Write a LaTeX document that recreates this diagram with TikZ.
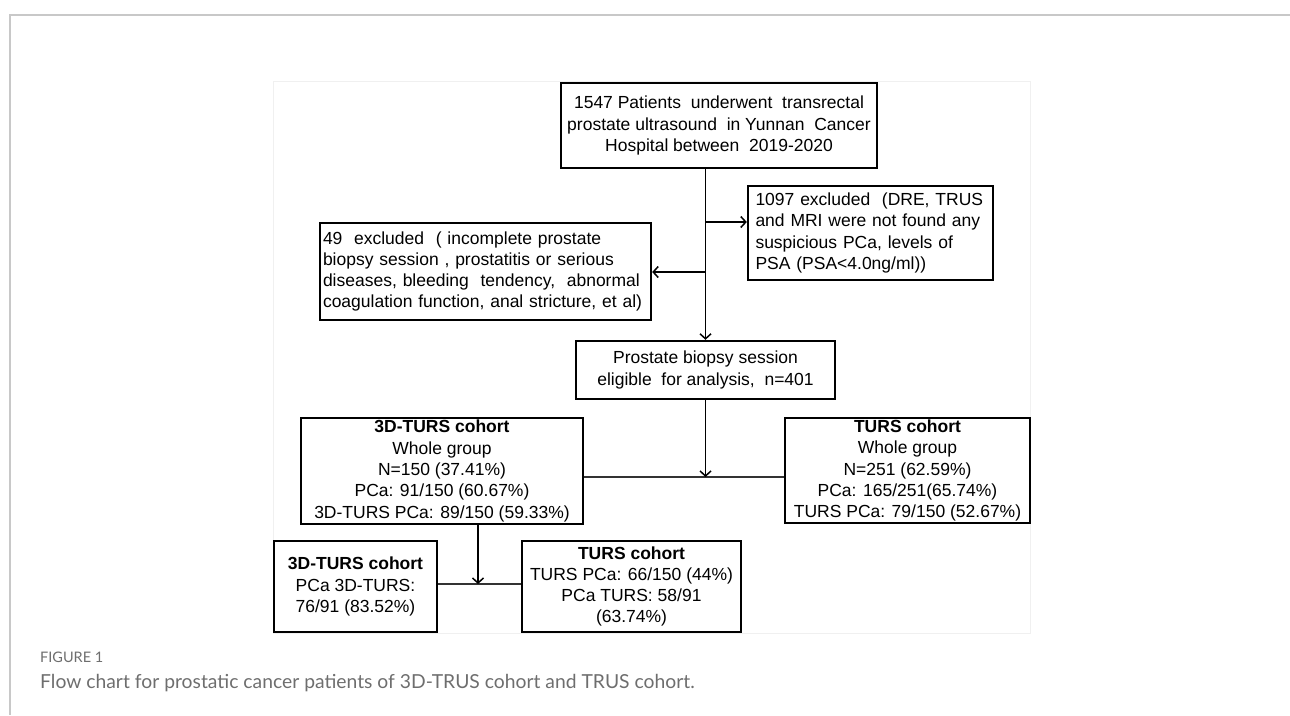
\documentclass[tikz,border=0pt]{standalone}
\usepackage{fontspec}
\setmainfont{Liberation Sans}
\newfontfamily\capfont{Lato}
\usetikzlibrary{arrows.meta}
\definecolor{framegray}{HTML}{C8C8C8}
\definecolor{capgray}{HTML}{6E6E6E}
\tikzset{
	box/.style={draw=black,line width=2.4pt,fill=white,inner xsep=6pt,inner ysep=0pt,
		font=\fontsize{17.5}{21.3}\selectfont},
	boxc/.style={box,align=center},
	boxl/.style={box,align=left},
	flow/.style={line width=1.5pt,->,>={Straight Barb[length=5pt,width=11pt]}},
	joinline/.style={line width=1.2pt,draw=black!80}
}
\begin{document}
\begin{tikzpicture}[x=1pt,y=-1pt]
		\useasboundingbox (0,0) rectangle (1290,715);
		\draw[framegray,line width=1.5pt] (1290,15) -- (10,15) -- (10,715);
		\draw[black!6,fill=white] (273,81) rectangle (1030,633);
		\node[boxc,minimum width=316pt,minimum height=85pt] (top) at (719,125.5)
			{1547 Patients \ underwent \ transrectal\\prostate ultrasound \ in Yunnan \ Cancer\\Hospital between \ 2019-2020};
		\node[boxl,minimum width=245pt,minimum height=94pt,text width=230pt] (exA) at (870.5,233)
			{1097 excluded \ (DRE, TRUS\\and MRI were not found any\\suspicious PCa, levels of\\PSA (PSA<4.0ng/ml))};
		\node[boxl,minimum width=331pt,minimum height=97pt,inner xsep=3pt,text width=325pt] (exB) at (485.5,271.5)
			{49 \ excluded \ ( incomplete prostate\\biopsy session , prostatitis or serious\\diseases, bleeding \ tendency, \ abnormal\\coagulation function, anal stricture, et al)};
		\node[boxc,minimum width=259pt,minimum height=58pt] (elig) at (705.5,370)
			{Prostate biopsy session\\eligible \ for analysis, \ n=401};
		\node[boxc,minimum width=282pt,minimum height=106pt] (cohA) at (442,471)
			{\textbf{3D-TURS cohort}\\Whole group\\N=150 (37.41\%)\\PCa: 91/150 (60.67\%)\\3D-TURS PCa: 89/150 (59.33\%)};
		\node[boxc,minimum width=245pt,minimum height=105pt] (cohB) at (907.5,470.5)
			{\textbf{TURS cohort}\\Whole group\\N=251 (62.59\%)\\PCa: 165/251(65.74\%)\\TURS PCa: 79/150 (52.67\%)};
		\node[boxc,minimum width=163pt,minimum height=91pt] (subA) at (355.5,586.5)
			{\textbf{3D-TURS cohort}\\PCa 3D-TURS:\\76/91 (83.52\%)};
		\node[boxc,minimum width=219pt,minimum height=91pt] (subB) at (631.5,586.5)
			{\textbf{TURS cohort}\\TURS PCa: 66/150 (44\%)\\PCa TURS: 58/91\\(63.74\%)};
		\coordinate (brA) at (705.5,222);
		\coordinate (brB) at (705.5,272);
		\coordinate (jA) at (705.5,477);
		\coordinate (jB) at (478,584);
		\draw[flow] (top.south -| elig.north) -- (elig.north);
		\draw[flow] (brA) -- (brA -| exA.west);
		\draw[flow] (brB) -- (brB -| exB.east);
		\draw[joinline] (cohA.east |- jA) -- (cohB.west |- jA);
		\draw[flow] (elig.south) -- (jA);
		\draw[joinline] (subA.east |- jB) -- (subB.west |- jB);
		\draw[flow] (cohA.south -| jB) -- (jB);
		\node[anchor=base west,inner sep=0pt,text=capgray,font=\capfont\fontsize{14.5}{16}\selectfont] (fig) at (40,662) {FIGURE 1};
		\node[anchor=base west,inner sep=0pt,text=capgray,font=\capfont\fontsize{19.3}{22}\selectfont] (cap) at (40,688)
			{Flow chart for prostatic cancer patients of 3D-TRUS cohort and TRUS cohort.};
	\end{tikzpicture}
\end{document}
